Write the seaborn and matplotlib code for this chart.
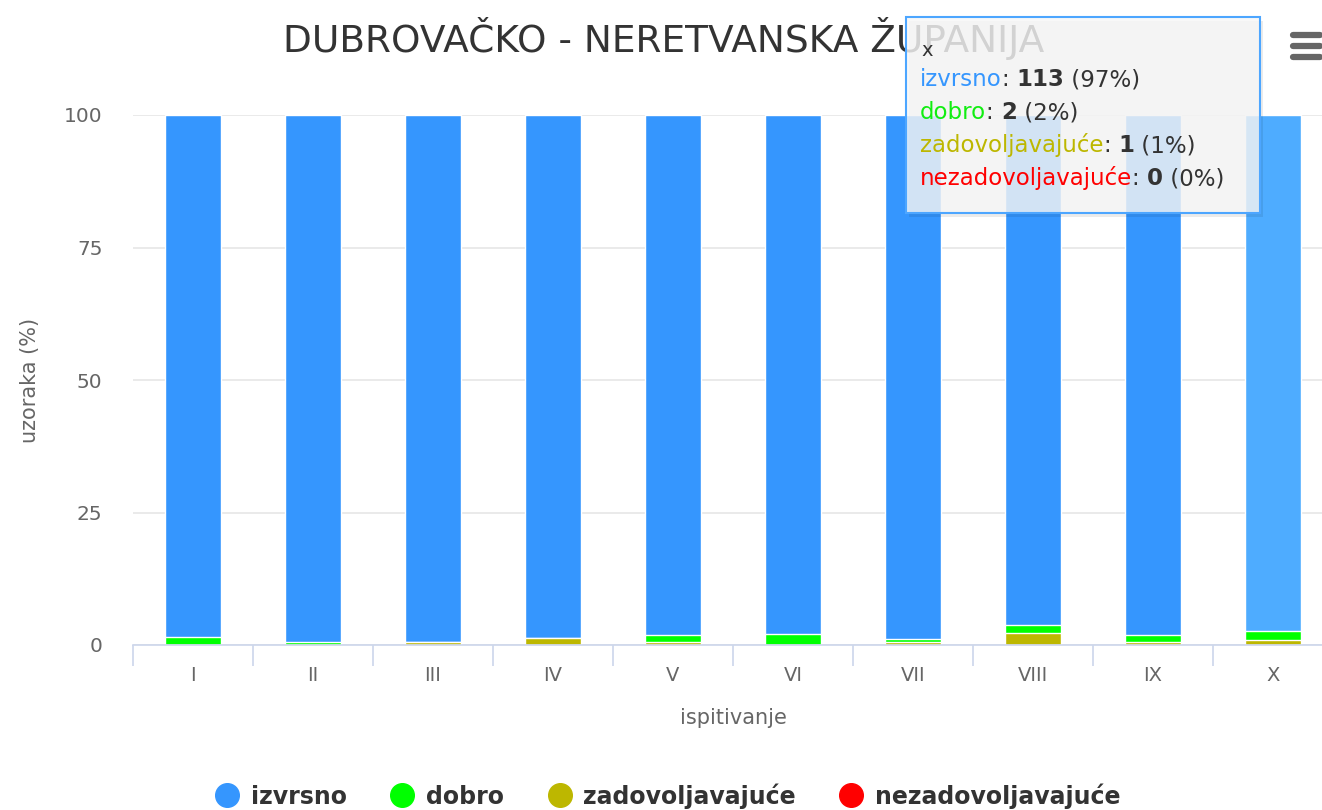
import matplotlib
matplotlib.use("Agg")
import matplotlib.pyplot as plt
from matplotlib.lines import Line2D
from matplotlib.text import Annotation
import seaborn as sns
import pandas as pd

# data (percent of samples per test round)
rounds = ["I", "II", "III", "IV", "V", "VI", "VII", "VIII", "IX", "X"]
dobro = [1.5, 0.6, 0.0, 0.0, 1.2, 2.0, 0.6, 1.6, 1.2, 1.7]
zadovoljavajuce = [0.0, 0.0, 0.6, 1.3, 0.6, 0.0, 0.6, 2.2, 0.6, 0.9]
nezadovoljavajuce = [0.0] * 10
izvrsno = [100 - d - z - n for d, z, n in zip(dobro, zadovoljavajuce, nezadovoljavajuce)]

labels = ["izvrsno", "dobro", "zadovoljavajuće", "nezadovoljavajuće"]
colors = ["#3596fe", "#00ff00", "#bdb700", "#ff0000"]
hover_blue = "#4eacff"

# tooltip values for round X
tip_counts = ["113", "2", "1", "0"]
tip_pct = ["97%", "2%", "1%", "0%"]

df = pd.DataFrame({"ispitivanje": rounds, "izvrsno": izvrsno, "dobro": dobro,
                   "zad": zadovoljavajuce, "nezad": nezadovoljavajuce})
# cumulative tops for stacking (drawn back to front)
df["top_izvrsno"] = df["izvrsno"] + df["dobro"] + df["zad"] + df["nezad"]
df["top_dobro"] = df["dobro"] + df["zad"] + df["nezad"]
df["top_zad"] = df["zad"] + df["nezad"]
df["top_nezad"] = df["nezad"]

sns.set_style("white")
plt.rcParams["font.family"] = ["DejaVu Sans"]

fig = plt.figure(figsize=(13.22, 8.10), dpi=100)
ax = fig.add_axes([133 / 1322, 1 - 645 / 810, 1200 / 1322, 530 / 810])

blue_pal = {r: colors[0] for r in rounds}
blue_pal["X"] = hover_blue
sns.barplot(data=df, x="ispitivanje", y="top_izvrsno", hue="ispitivanje", palette=blue_pal,
            legend=False, width=0.47, saturation=1, edgecolor="white", linewidth=1,
            ax=ax, zorder=3)
for col, c in zip(["top_dobro", "top_zad", "top_nezad"], colors[1:]):
    sns.barplot(data=df, x="ispitivanje", y=col, color=c, width=0.47, saturation=1,
                edgecolor="white", linewidth=1, ax=ax, zorder=3)

ax.set_xlim(-0.5, 9.5)
ax.set_ylim(0, 100)
ax.set_yticks([0, 25, 50, 75, 100])
ax.yaxis.grid(True, color="#e6e6e6", linewidth=1.2, zorder=0)
for s in ["top", "right", "left"]:
    ax.spines[s].set_visible(False)
ax.spines["bottom"].set_color("#ccd6eb")
ax.spines["bottom"].set_linewidth(1.2)
ax.spines["bottom"].set_zorder(4)

ax.tick_params(axis="y", length=0, labelsize=14.5, labelcolor="#666666", pad=22)
ax.tick_params(axis="x", length=0, labelsize=14, labelcolor="#666666", pad=15)
# category boundary ticks
ax.set_xticks([i - 0.5 for i in range(11)], minor=True)
ax.tick_params(axis="x", which="minor", bottom=True, length=15, color="#ccd6eb", width=1.2)

ax.set_xlabel("ispitivanje", fontsize=15, color="#666666")
ax.set_ylabel("uzoraka (%)", fontsize=15, color="#666666")
ax.xaxis.set_label_coords(0.5, -(718 - 645) / 530)
ax.yaxis.set_label_coords(-(133 - 30) / 1200, 0.5)
ax.xaxis.label.set_va("center")
ax.yaxis.label.set_va("center")

fig.text(664 / 1322, 1 - 38 / 810, "DUBROVAČKO - NERETVANSKA ŽUPANIJA", ha="center",
         va="center", fontsize=27, color="#333333")

# legend
handles = [Line2D([], [], marker="o", linestyle="", markersize=17, color=c) for c in colors]
leg = fig.legend(handles, labels, loc="center", bbox_to_anchor=(668 / 1322, 1 - 796 / 810),
                 ncol=4, frameon=False, handlelength=1.0, handletextpad=0.5,
                 columnspacing=1.85, prop={"weight": "bold", "size": 17})
for t in leg.get_texts():
    t.set_color("#333333")

# hamburger menu icon
for yy in [35, 46, 57]:
    fig.add_artist(Line2D([1293 / 1322, 1320 / 1322], [1 - yy / 810] * 2, color="#666666",
                          linewidth=4.5, solid_capstyle="round"))

# tooltip box (hover on X)
shadow = plt.Rectangle((909 / 1322, 1 - 217 / 810), 354 / 1322, 196 / 810,
                       transform=fig.transFigure, facecolor=(0, 0, 0, 0.08),
                       edgecolor="none", zorder=9)
fig.add_artist(shadow)
box = plt.Rectangle((906 / 1322, 1 - 213 / 810), 354 / 1322, 196 / 810, transform=fig.transFigure,
                    facecolor=(0.97, 0.97, 0.97, 0.82), edgecolor="#4da6ff", linewidth=1.5,
                    zorder=10)
fig.add_artist(box)
fig.text(921 / 1322, 1 - 50 / 810, "x", fontsize=14, color="#333333", va="center", zorder=11)
tip_colors = [colors[0], "#11ee11", colors[2], colors[3]]
for i in range(4):
    y = 1 - (80 + i * 32.7) / 810
    t1 = fig.text(920 / 1322, y, labels[i], color=tip_colors[i], fontsize=16.5,
                  va="center", zorder=11)
    t2 = Annotation(": ", xy=(1, 0), xycoords=t1, va="bottom", fontsize=16.5,
                    color="#333333", zorder=11)
    fig.add_artist(t2)
    t3 = Annotation(tip_counts[i], xy=(1, 0), xycoords=t2, va="bottom", fontsize=16.5,
                    weight="bold", color="#333333", zorder=11)
    fig.add_artist(t3)
    fig.add_artist(Annotation(" (" + tip_pct[i] + ")", xy=(1, 0), xycoords=t3, va="bottom",
                              fontsize=16.5, color="#333333", zorder=11))

fig.savefig("out.png", dpi=100)
